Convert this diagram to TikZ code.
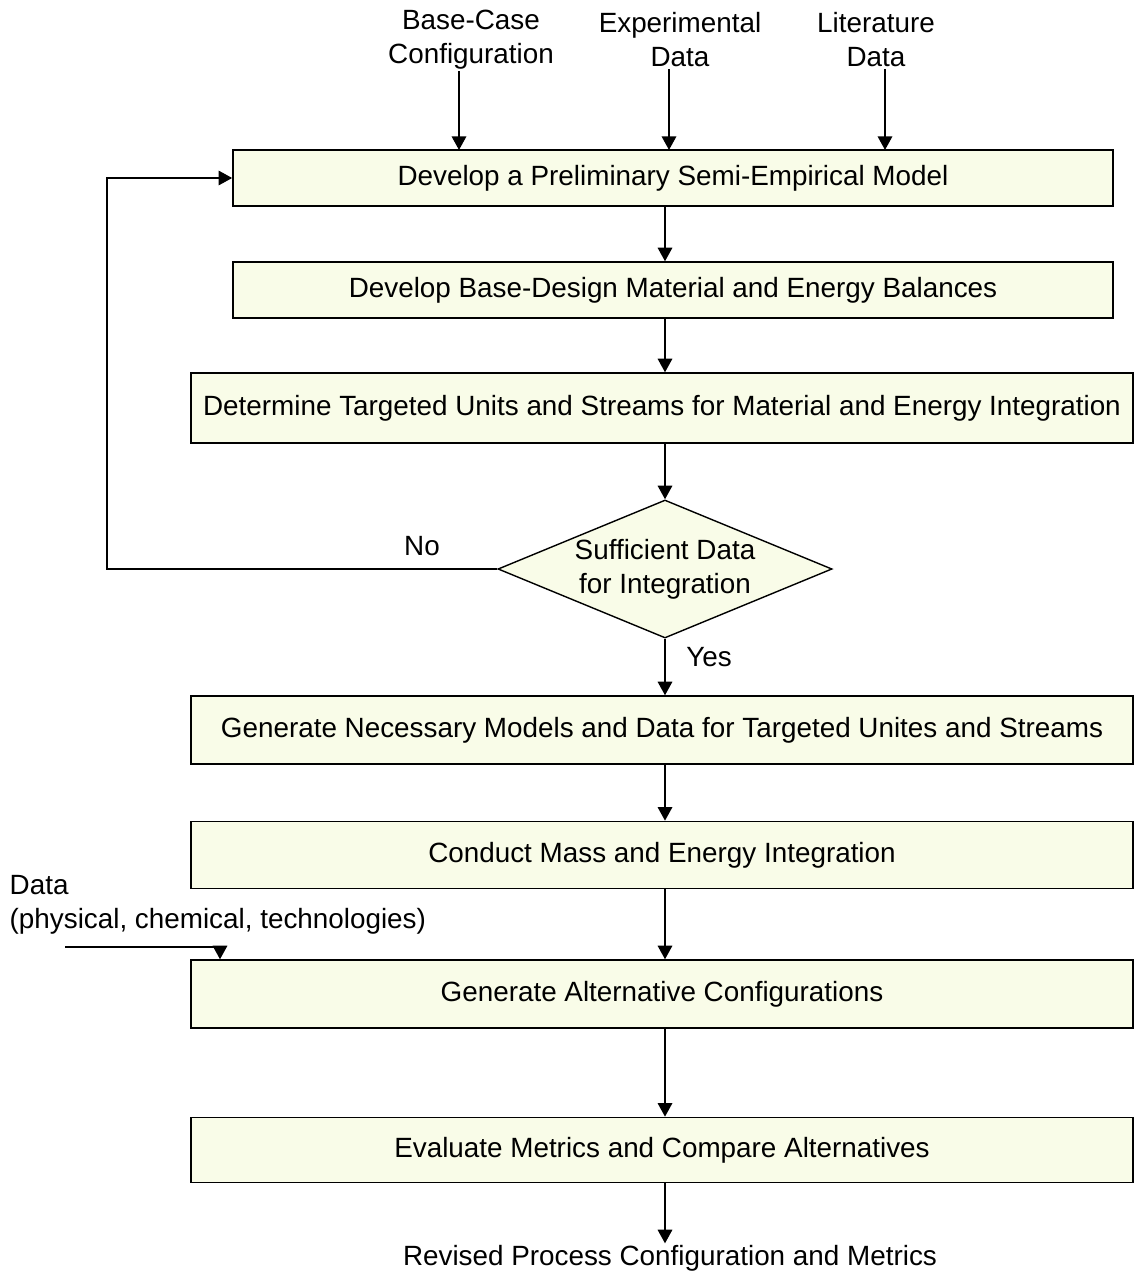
\documentclass[tikz,border=0pt]{standalone}
\usepackage{fontspec}
\setmainfont{Liberation Sans}
\usepackage{xcolor}
\usepackage{tikz}
\usetikzlibrary{shapes.geometric}
\usetikzlibrary{arrows.meta}

\definecolor{boxfill}{RGB}{249,252,232}

\tikzset{
    stepbox/.style = {draw, line width=1pt, fill=boxfill, minimum width=23.55cm,
        minimum height=1.7cm, inner sep=2pt},
    decbox/.style = {draw, line width=1pt, fill=boxfill, diamond, aspect=2.4,
        inner sep=0pt, minimum width=8.35cm, minimum height=3.45cm, align=center},
    lbl/.style = {align=center, inner sep=1pt},
    arr/.style = {line width=1.4pt, -{Triangle[length=0.34cm, width=0.36cm]}}
}

\begin{document}
\begin{tikzpicture}[x=0.025cm, y=-0.025cm, font=\fontsize{19.8}{24.2}\selectfont]
        \useasboundingbox (0, 0) rectangle (1135, 1275);

        % inputs on top
        \node[lbl] (bc) at (471, 40) {Base-Case\\Configuration};
        \node[lbl] (ed) at (680, 40) {Experimental\\Data};
        \node[lbl] (ld) at (876, 40) {Literature\\Data};

        % main column
        \node[stepbox, minimum width=22cm, minimum height=1.4cm] (b1) at (673, 178)
            {Develop a Preliminary Semi-Empirical Model};
        \node[stepbox, minimum width=22cm, minimum height=1.4cm] (b2) at (673, 290)
            {Develop Base-Design Material and Energy Balances};
        \node[stepbox, minimum height=1.75cm] (b3) at (662, 408)
            {Determine Targeted Units and Streams for Material and Energy Integration};
        \node[decbox] (dec) at (665, 569) {Sufficient Data\\for Integration};
        \node[stepbox] (b4) at (662, 730)
            {Generate Necessary Models and Data for Targeted Unites and Streams};
        \node[stepbox, minimum height=1.68cm] (b5) at (662, 855)
            {Conduct Mass and Energy Integration};
        \node[stepbox] (b6) at (662, 994) {Generate Alternative Configurations};
        \node[stepbox, minimum height=1.63cm] (b7) at (662, 1150)
            {Evaluate Metrics and Compare Alternatives};
        \node[lbl] (out) at (670, 1258) {Revised Process Configuration and Metrics};

        \node[lbl] (no) at (422, 546) {No};
        \node[lbl] (yes) at (709, 657) {Yes};
        \node[lbl, align=left, anchor=west] (dat) at (8, 905)
            {Data\\(physical, chemical, technologies)};

        \coordinate (mid) at (665, 0);
        \coordinate (fb) at (107, 0);
        \coordinate (in1) at (459, 150);
        \coordinate (in2) at (669, 150);
        \coordinate (in3) at (885, 150);
        \coordinate (din) at (65, 947);
        \coordinate (b6in) at (220, 0);

        \draw[arr] (in1 |- bc.south) -- (in1);
        \draw[arr] (in2 |- ed.south) -- (in2);
        \draw[arr] (in3 |- ld.south) -- (in3);

        \draw[arr] (b1.south -| mid) -- (b2.north -| mid);
        \draw[arr] (b2.south -| mid) -- (b3.north -| mid);
        \draw[arr] (b3.south -| mid) -- (dec.north);
        \draw[arr] (dec.south) -- (b4.north -| mid);
        \draw[arr] (b4.south -| mid) -- (b5.north -| mid);
        \draw[arr] (b5.south -| mid) -- (b6.north -| mid);
        \draw[arr] (b6.south -| mid) -- (b7.north -| mid);
        \draw[arr] (b7.south -| mid) -- (out.north -| mid);

        \draw[arr] (dec.west) -- (dec.west -| fb) |- (b1.west);
        \draw[arr] (din) -| (b6.north -| b6in);
\end{tikzpicture}
\end{document}
